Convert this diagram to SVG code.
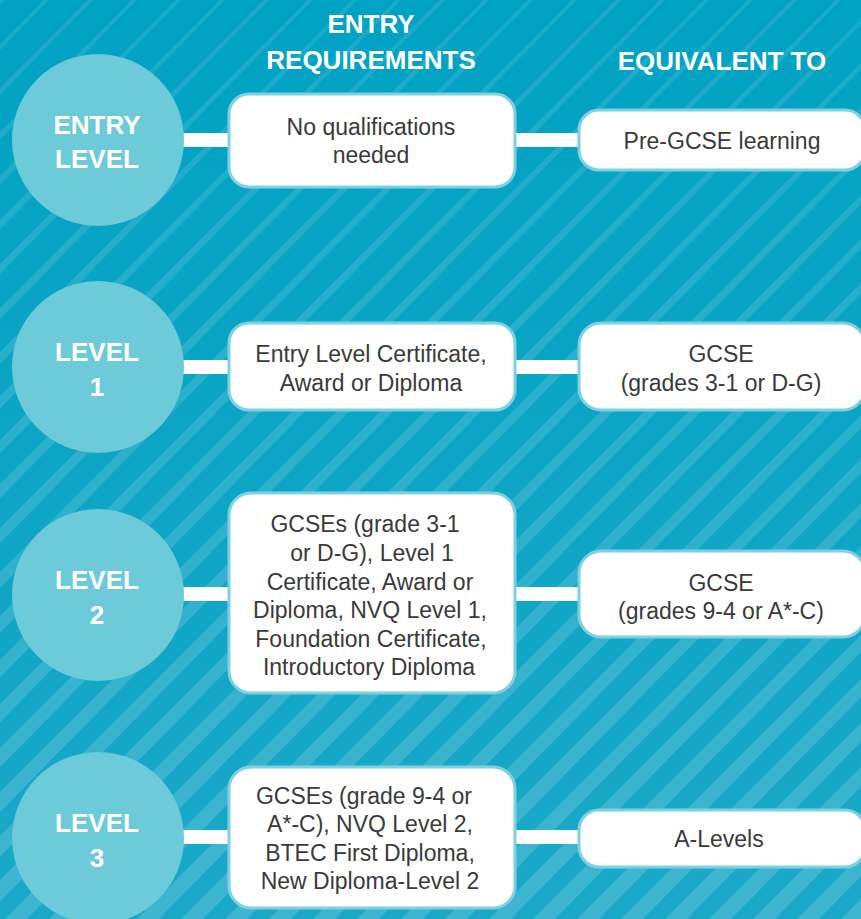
<svg xmlns="http://www.w3.org/2000/svg" width="861" height="919" viewBox="0 0 861 919">
<defs>
<linearGradient id="bg" x1="0" y1="0" x2="0" y2="919" gradientUnits="userSpaceOnUse">
<stop offset="0" stop-color="#00a2c3"/>
<stop offset="1" stop-color="#1aa8c8"/>
</linearGradient>
<linearGradient id="st" x1="0" y1="0" x2="0" y2="919" gradientUnits="userSpaceOnUse">
<stop offset="0" stop-color="#ffffff" stop-opacity="0.1"/>
<stop offset="1" stop-color="#ffffff" stop-opacity="0.16"/>
</linearGradient>
</defs>
<style>
.circ{fill:#6ccad9}
.lvl{font-family:"Liberation Sans",Arial,sans-serif;font-weight:bold;font-size:26px;fill:#ffffff;text-anchor:middle}
.hdr{font-family:"Liberation Sans",Arial,sans-serif;font-weight:bold;font-size:26px;fill:#ffffff;text-anchor:middle}
.box{fill:#ffffff;stroke:#7fd1e1;stroke-width:3}
.txt{font-family:"Liberation Sans",Arial,sans-serif;font-size:23px;fill:#3a3a3a;text-anchor:middle}
.bar{fill:#ffffff}
</style>
<rect x="0" y="0" width="861" height="919" fill="url(#bg)"/>
<path fill="url(#st)" d="M0 0h5l-902 919h-22zM44 0h5l-902 919h-22zM88 0h5l-902 919h-22zM132 0h5l-902 919h-22zM176 0h5l-902 919h-22zM220 0h5l-902 919h-22zM264 0h5l-902 919h-22zM308 0h5l-902 919h-22zM352 0h5l-902 919h-22zM396 0h5l-902 919h-22zM440 0h5l-902 919h-22zM484 0h5l-902 919h-22zM528 0h5l-902 919h-22zM572 0h5l-902 919h-22zM616 0h5l-902 919h-22zM660 0h5l-902 919h-22zM704 0h5l-902 919h-22zM748 0h5l-902 919h-22zM792 0h5l-902 919h-22zM836 0h5l-902 919h-22zM880 0h5l-902 919h-22zM924 0h5l-902 919h-22zM968 0h5l-902 919h-22zM1012 0h5l-902 919h-22zM1056 0h5l-902 919h-22zM1100 0h5l-902 919h-22zM1144 0h5l-902 919h-22zM1188 0h5l-902 919h-22zM1232 0h5l-902 919h-22zM1276 0h5l-902 919h-22zM1320 0h5l-902 919h-22zM1364 0h5l-902 919h-22zM1408 0h5l-902 919h-22zM1452 0h5l-902 919h-22zM1496 0h5l-902 919h-22zM1540 0h5l-902 919h-22zM1584 0h5l-902 919h-22zM1628 0h5l-902 919h-22zM1672 0h5l-902 919h-22zM1716 0h5l-902 919h-22zM1760 0h5l-902 919h-22zM1804 0h5l-902 919h-22z"/>

<g id="headers">
<text class="hdr" x="371" y="33">ENTRY</text>
<text class="hdr" x="371" y="69">REQUIREMENTS</text>
<text class="hdr" x="722" y="70">EQUIVALENT TO</text>
</g>

<g id="connectors">
<rect class="bar" x="180" y="133" width="52" height="14"/>
<rect class="bar" x="512" y="133" width="70" height="14"/>
<rect class="bar" x="180" y="360" width="52" height="14"/>
<rect class="bar" x="512" y="360" width="70" height="14"/>
<rect class="bar" x="180" y="587" width="52" height="14"/>
<rect class="bar" x="512" y="587" width="70" height="14"/>
<rect class="bar" x="180" y="830" width="52" height="14"/>
<rect class="bar" x="512" y="830" width="70" height="14"/>
</g>

<g id="entry-level">
<circle class="circ" cx="98" cy="140" r="86"/>
<text class="lvl" x="97" y="134">ENTRY</text>
<text class="lvl" x="97" y="168">LEVEL</text>
</g>
<g id="entry-req">
<rect class="box" x="229" y="94" width="286" height="93" rx="20"/>
<text class="txt" x="371" y="135">No qualifications</text>
<text class="txt" x="371" y="163">needed</text>
</g>
<g id="entry-equiv">
<rect class="box" x="579" y="110" width="286" height="60" rx="20"/>
<text class="txt" x="722" y="149">Pre-GCSE learning</text>
</g>

<g id="level-1">
<circle class="circ" cx="98" cy="367" r="86"/>
<text class="lvl" x="97" y="361">LEVEL</text>
<text class="lvl" x="97" y="396">1</text>
</g>
<g id="level-1-req">
<rect class="box" x="229" y="323" width="286" height="87" rx="20"/>
<text class="txt" x="371" y="362">Entry Level Certificate,</text>
<text class="txt" x="371" y="391">Award or Diploma</text>
</g>
<g id="level-1-equiv">
<rect class="box" x="579" y="323" width="286" height="87" rx="22"/>
<text class="txt" x="721" y="362">GCSE</text>
<text class="txt" x="721" y="391">(grades 3-1 or D-G)</text>
</g>

<g id="level-2">
<circle class="circ" cx="98" cy="595" r="86"/>
<text class="lvl" x="97" y="589">LEVEL</text>
<text class="lvl" x="97" y="624">2</text>
</g>
<g id="level-2-req">
<rect class="box" x="229" y="493" width="286" height="200" rx="22"/>
<text class="txt" x="365" y="532">GCSEs (grade 3-1</text>
<text class="txt" x="372" y="561">or D-G), Level 1</text>
<text class="txt" x="370" y="590">Certificate, Award or</text>
<text class="txt" x="370" y="618">Diploma, NVQ Level 1,</text>
<text class="txt" x="371" y="647">Foundation Certificate,</text>
<text class="txt" x="369" y="675">Introductory Diploma</text>
</g>
<g id="level-2-equiv">
<rect class="box" x="579" y="551" width="286" height="86" rx="22"/>
<text class="txt" x="721" y="591">GCSE</text>
<text class="txt" x="721" y="619">(grades 9-4 or A*-C)</text>
</g>

<g id="level-3">
<circle class="circ" cx="98" cy="838" r="86"/>
<text class="lvl" x="97" y="832">LEVEL</text>
<text class="lvl" x="97" y="867">3</text>
</g>
<g id="level-3-req">
<rect class="box" x="229" y="767" width="286" height="141" rx="22"/>
<text class="txt" x="364" y="804">GCSEs (grade 9-4 or</text>
<text class="txt" x="370" y="832">A*-C), NVQ Level 2,</text>
<text class="txt" x="370" y="861">BTEC First Diploma,</text>
<text class="txt" x="370" y="889">New Diploma-Level 2</text>
</g>
<g id="level-3-equiv">
<rect class="box" x="579" y="810" width="286" height="57" rx="20"/>
<text class="txt" x="719" y="847">A-Levels</text>
</g>
</svg>
